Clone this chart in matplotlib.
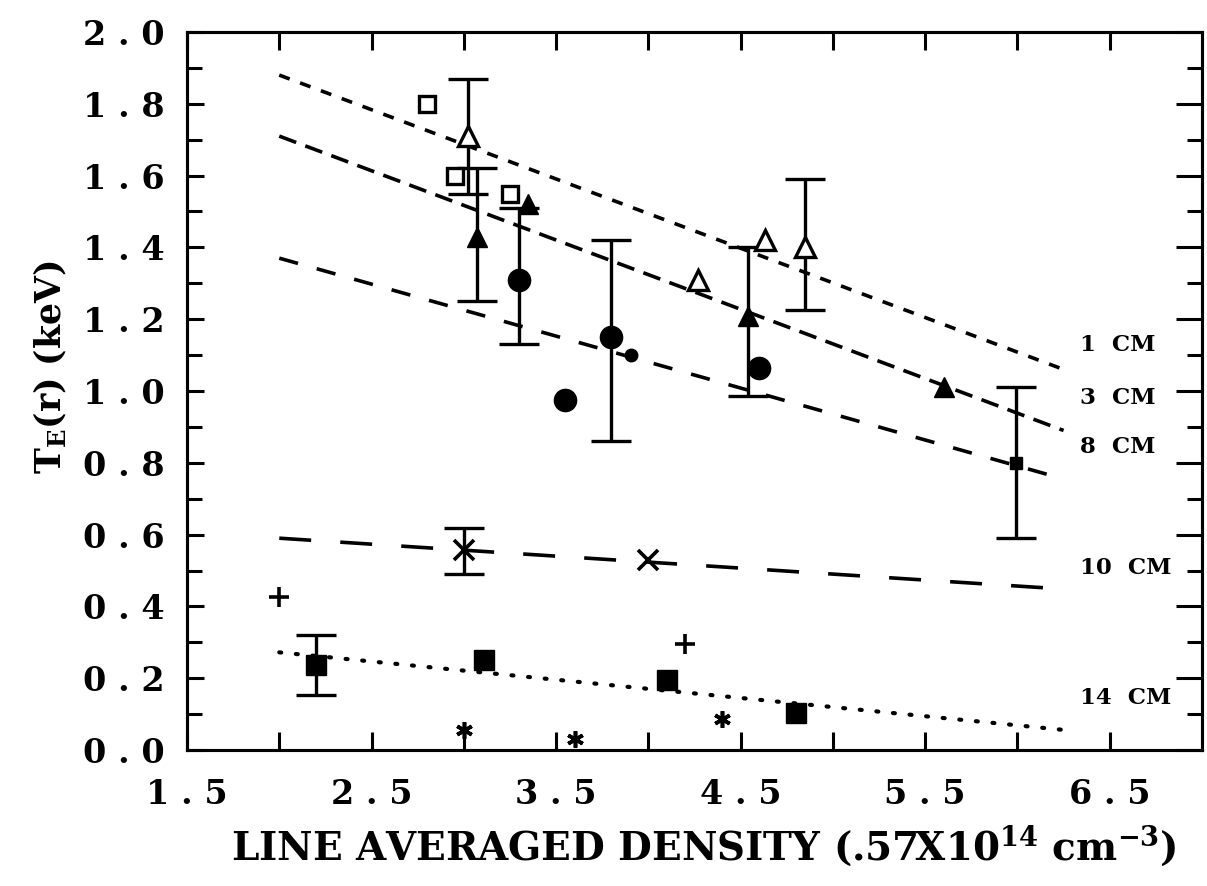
import matplotlib
matplotlib.use("Agg")
import matplotlib.pyplot as plt
import numpy as np

# ---------------- data ----------------
open_sq_x = [2.80, 2.95, 3.25]
open_sq_y = [1.80, 1.60, 1.55]

open_tri_x = [3.02, 4.27, 4.63, 4.85]
open_tri_y = [1.71, 1.31, 1.42, 1.40]
open_tri_err_x = [3.02, 4.85]
open_tri_err_y = [1.71, 1.40]
open_tri_err_lo = [1.55, 1.225]
open_tri_err_hi = [1.87, 1.59]

fill_tri_x = [3.07, 3.35, 4.54, 5.60]
fill_tri_y = [1.43, 1.52, 1.21, 1.01]
fill_tri_err_x = [3.07, 4.54]
fill_tri_err_y = [1.43, 1.21]
fill_tri_err_lo = [1.25, 0.985]
fill_tri_err_hi = [1.62, 1.40]

circ_x = [3.30, 3.80, 3.55, 4.60]
circ_y = [1.31, 1.15, 0.975, 1.065]
circ_err_x = [3.30, 3.80]
circ_err_y = [1.31, 1.15]
circ_err_lo = [1.13, 0.86]
circ_err_hi = [1.51, 1.42]

small_circ_x = [3.905]
small_circ_y = [1.10]

xmark_x = [3.0, 4.0]
xmark_y = [0.557, 0.53]
xmark_err_lo = [0.49]
xmark_err_hi = [0.618]

plus_x = [2.0, 4.2]
plus_y = [0.425, 0.295]

fsq_x = [2.20, 3.11, 4.10, 4.80]
fsq_y = [0.237, 0.25, 0.195, 0.103]
fsq_err_lo = [0.153]
fsq_err_hi = [0.32]

small_sq_x = [5.99]
small_sq_y = [0.80]
small_sq_err_lo = [0.59]
small_sq_err_hi = [1.01]

ast_x = [3.0, 3.6, 4.4]
ast_y = [0.056, 0.03, 0.086]

fit_labels = ["1  CM", "3  CM", "8  CM", "10  CM", "14  CM"]
fit_x0 = [2.0, 2.0, 2.0, 2.0, 2.0]
fit_x1 = [6.25, 6.25, 6.25, 6.2, 6.25]
fit_y0 = [1.88, 1.71, 1.37, 0.59, 0.272]
fit_y1 = [1.06, 0.89, 0.755, 0.45, 0.056]

xtick_vals = [1.5, 2.0, 2.5, 3.0, 3.5, 4.0, 4.5, 5.0, 5.5, 6.0, 6.5]
ytick_vals = [0.0, 0.2, 0.4, 0.6, 0.8, 1.0, 1.2, 1.4, 1.6, 1.8, 2.0]

# ---------------- style ----------------
plt.rcParams['lines.scale_dashes'] = False
plt.rcParams['mathtext.fontset'] = 'custom'
plt.rcParams['mathtext.rm'] = 'DejaVu Serif:bold'
plt.rcParams['mathtext.it'] = 'DejaVu Serif:bold'
plt.rcParams['mathtext.bf'] = 'DejaVu Serif:bold'

fig = plt.figure(figsize=(12.07, 8.86), dpi=100)
L, R, B, T = 187 / 1207, 1202 / 1207, 1 - 750 / 886, 1 - 32 / 886
ax = fig.add_axes([L, B, R - L, T - B])
ax.set_xlim(1.5, 7.0)
ax.set_ylim(0.0, 2.0)

for s in ax.spines.values():
    s.set_linewidth(2.2)

# fit lines
dash_styles = [(0, (8, 8)), (0, (13, 7)), (0, (14, 14)), (0, (23, 21)), (0, (1.4, 10.6))]
label_y = [1.128, 0.98, 0.845, 0.507, 0.145]
for i in range(len(fit_labels)):
    ls = dash_styles[i]
    lw = 2.6 if i < 4 else 3.0
    ax.plot([fit_x0[i], fit_x1[i]], [fit_y0[i], fit_y1[i]], color='k', lw=lw,
            linestyle=ls, dash_capstyle='round' if i == 4 else 'butt')
    ax.text(6.34, label_y[i], fit_labels[i], fontsize=16.5, fontweight='bold',
            family='DejaVu Serif', va='center', ha='left')

eb = dict(fmt='none', ecolor='k', elinewidth=2.4, capsize=14.4, capthick=2.4)

def err(x, y, lo, hi):
    y = np.asarray(y); lo = np.asarray(lo); hi = np.asarray(hi)
    ax.errorbar(x, y, yerr=[y - lo, hi - y], **eb)

err(open_tri_err_x, open_tri_err_y, open_tri_err_lo, open_tri_err_hi)
err(fill_tri_err_x, fill_tri_err_y, fill_tri_err_lo, fill_tri_err_hi)
err(circ_err_x, circ_err_y, circ_err_lo, circ_err_hi)
err(xmark_x[:1], xmark_y[:1], xmark_err_lo, xmark_err_hi)
err(fsq_x[:1], fsq_y[:1], fsq_err_lo, fsq_err_hi)
err(small_sq_x, small_sq_y, small_sq_err_lo, small_sq_err_hi)

ax.plot(open_sq_x, open_sq_y, ls='none', marker='s', ms=12, mfc='white', mec='k', mew=2.4)
ax.plot(open_tri_x, open_tri_y, ls='none', marker='^', ms=14, mfc='white', mec='k', mew=2.4)
ax.plot(fill_tri_x, fill_tri_y, ls='none', marker='^', ms=15, mfc='k', mec='k')
ax.plot(circ_x, circ_y, ls='none', marker='o', ms=16, mfc='k', mec='k')
ax.plot(small_circ_x, small_circ_y, ls='none', marker='o', ms=9, mfc='k', mec='k')
ax.plot(xmark_x, xmark_y, ls='none', marker='x', ms=14, mec='k', mew=2.6)
ax.plot(plus_x, plus_y, ls='none', marker='+', ms=15, mec='k', mew=2.6)
ax.plot(fsq_x, fsq_y, ls='none', marker='s', ms=15, mfc='k', mec='k')
ax.plot(small_sq_x, small_sq_y, ls='none', marker='s', ms=8, mfc='k', mec='k')
ax.plot(ast_x, ast_y, ls='none', marker=(6, 2, 0), ms=12, mec='k', mew=2.6)

# ticks
def spaced(v):
    return " ".join(f"{v:.1f}")

ax.set_xticks(xtick_vals)
ax.set_xticklabels([spaced(v) if abs((v - 1.5) % 1.0) < 1e-6 else "" for v in xtick_vals])
ax.set_yticks(ytick_vals)
ax.set_yticklabels([spaced(v) for v in ytick_vals])
ax.set_yticks(np.arange(0.1, 2.0, 0.2), minor=True)
ax.tick_params(axis='x', which='major', direction='in', length=13, width=2.2,
               top=True, bottom=True, pad=20)
ax.tick_params(axis='y', which='major', direction='in', length=12, width=2.2,
               left=True, right=False, pad=16)
ax.tick_params(axis='y', which='minor', direction='in', length=11, width=2.2,
               left=True, right=False)
for lab in ax.get_xticklabels() + ax.get_yticklabels():
    lab.set_family('DejaVu Serif')
    lab.set_fontweight('bold')
    lab.set_fontsize(24)

# right-hand ticks (long/short)
tw = ax.twinx()
tw.set_ylim(ax.get_ylim())
tw.set_yticks(ytick_vals)
tw.set_yticks(np.arange(0.1, 2.0, 0.2), minor=True)
tw.tick_params(axis='y', which='major', direction='in', length=19, width=2.2, labelright=False)
tw.tick_params(axis='y', which='minor', direction='in', length=11, width=2.2, labelright=False)
for s in tw.spines.values():
    s.set_linewidth(2.2)

ax.set_xlabel(r"LINE AVERAGED DENSITY (.57X10$^{14}$ cm$^{-3}$)",
              family='DejaVu Serif', fontweight='bold', fontsize=28)
ax.xaxis.set_label_coords(0.509, -0.134)
ax.xaxis.label.set_va('center')
ax.set_ylabel(r"T$_{\mathrm{E}}$(r) (keV)", family='DejaVu Serif', fontweight='bold', fontsize=25)
ax.yaxis.set_label_coords(-0.135, 0.533)
ax.yaxis.label.set_va('center')

fig.savefig("out.png", dpi=100)
